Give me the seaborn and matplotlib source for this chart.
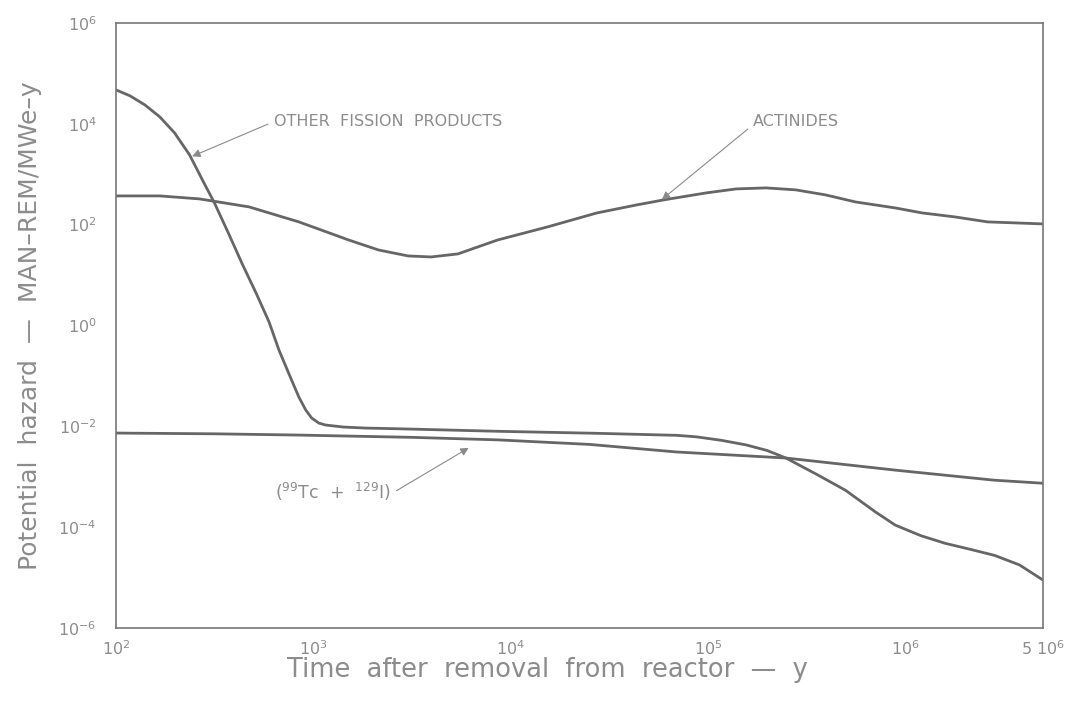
import numpy as np
import pandas as pd
import matplotlib
matplotlib.use("Agg")
import matplotlib.pyplot as plt
import seaborn as sns

# values (log10 of years, log10 of hazard)
fission_logx = [2.0, 2.071, 2.146, 2.222, 2.297, 2.373, 2.438, 2.499, 2.574, 2.640,
                2.710, 2.776, 2.826, 2.877, 2.927, 2.962, 2.992, 3.028, 3.063, 3.154,
                3.264, 3.431, 3.935, 4.438, 4.841, 4.942, 5.07, 5.194, 5.30, 5.396,
                5.55, 5.698, 5.85, 5.95, 6.08, 6.202, 6.33, 6.453, 6.58, 6.699]
fission_logy = [4.67, 4.552, 4.373, 4.135, 3.817, 3.381, 2.885, 2.429, 1.794, 1.218,
                0.643, 0.067, -0.488, -0.964, -1.421, -1.679, -1.837, -1.937, -1.976, -2.016,
                -2.036, -2.05, -2.10, -2.14, -2.18, -2.21, -2.28, -2.37, -2.48, -2.63,
                -2.95, -3.27, -3.70, -3.96, -4.17, -4.32, -4.44, -4.56, -4.75, -5.05]

actin_logx = [2.0, 2.222, 2.423, 2.675, 2.927, 3.179, 3.330, 3.481, 3.597, 3.733,
              3.935, 4.187, 4.438, 4.640, 4.776, 4.992, 5.144, 5.295, 5.446, 5.597,
              5.748, 5.950, 6.086, 6.252, 6.418, 6.699]
actin_logy = [2.567, 2.567, 2.508, 2.349, 2.052, 1.694, 1.496, 1.377, 1.357, 1.417,
              1.694, 1.952, 2.230, 2.389, 2.488, 2.627, 2.706, 2.726, 2.687, 2.587,
              2.448, 2.329, 2.230, 2.151, 2.052, 2.012]

tc_logx = [2.0, 2.5, 2.927, 3.5, 3.935, 4.4, 4.841, 5.396, 5.95, 6.453, 6.699]
tc_logy = [-2.135, -2.15, -2.175, -2.22, -2.27, -2.36, -2.51, -2.63, -2.87, -3.07, -3.13]

xticks = [1e2, 1e3, 1e4, 1e5, 1e6, 5e6]
xtick_labels = ["$10^2$", "$10^3$", "$10^4$", "$10^5$", "$10^6$", "5 $10^6$"]
yticks = [1e-6, 1e-4, 1e-2, 1e0, 1e2, 1e4, 1e6]
ytick_labels = ["$10^{-6}$", "$10^{-4}$", "$10^{-2}$", "$10^0$", "$10^2$", "$10^4$", "$10^6$"]


def to_frame(lx, ly, name):
    return pd.DataFrame({"t": np.power(10.0, lx), "h": np.power(10.0, ly), "s": name})


df = pd.concat([
    to_frame(fission_logx, fission_logy, "fission"),
    to_frame(actin_logx, actin_logy, "actinides"),
    to_frame(tc_logx, tc_logy, "tc"),
])

sns.set_style("white")
plt.rcParams["font.family"] = ["DejaVu Sans"]
plt.rcParams["mathtext.fontset"] = "dejavusans"

line_col = "#666666"
text_col = "#8c8c8c"

fig = plt.figure(figsize=(10.67, 7.12), dpi=100)
ax = fig.add_axes([0.1087, 0.118, 0.8688, 0.850])

for name in ["fission", "actinides", "tc"]:
    sub = df[df["s"] == name]
    sns.lineplot(data=sub, x="t", y="h", ax=ax, color=line_col, linewidth=2.0,
                 estimator=None, sort=False)

ax.set_xscale("log")
ax.set_yscale("log")
ax.set_xlim(1e2, 5e6)
ax.set_ylim(1e-6, 1e6)
ax.set_xticks(xticks)
ax.set_xticklabels(xtick_labels)
ax.set_yticks(yticks)
ax.set_yticklabels(ytick_labels)
ax.minorticks_off()
ax.tick_params(direction="in", length=6, width=1, colors="#777777",
               labelcolor=text_col, labelsize=11.5)
ax.tick_params(axis="y", pad=14)
ax.tick_params(axis="x", pad=8)

for sp in ax.spines.values():
    sp.set_color("#777777")
    sp.set_linewidth(1.2)

ax.set_xlabel("Time  after  removal  from  reactor  \u2014  y", fontsize=18.5,
              color=text_col)
ax.xaxis.set_label_coords(0.465, -0.048)
ax.set_ylabel("Potential  hazard  \u2014  MAN\u2013REM/MWe\u2013y", fontsize=18,
              color=text_col, labelpad=12)

arrow = dict(arrowstyle="-|>", color="#8a8a8a", lw=0.8, mutation_scale=12)

ax.annotate("OTHER  FISSION  PRODUCTS", xy=(10**2.373, 10**3.33),
            xytext=(10**2.80, 10**4.04), fontsize=11.5, color=text_col,
            ha="left", va="center",
            arrowprops=dict(arrow, relpos=(0.0, 0.5)))
ax.annotate("ACTINIDES", xy=(10**4.756, 10**2.46),
            xytext=(10**5.23, 10**4.04), fontsize=11.5, color=text_col,
            ha="left", va="center",
            arrowprops=dict(arrow, relpos=(0.0, 0.3)))
ax.annotate("$(^{99}$Tc  +  $^{129}$I)", xy=(10**3.80, 10**-2.40),
            xytext=(10**3.10, 10**-3.30), fontsize=12.5, color=text_col,
            ha="center", va="center",
            arrowprops=dict(arrow, relpos=(1.0, 0.4)))

plt.savefig("out.png", dpi=100)
plt.close()
